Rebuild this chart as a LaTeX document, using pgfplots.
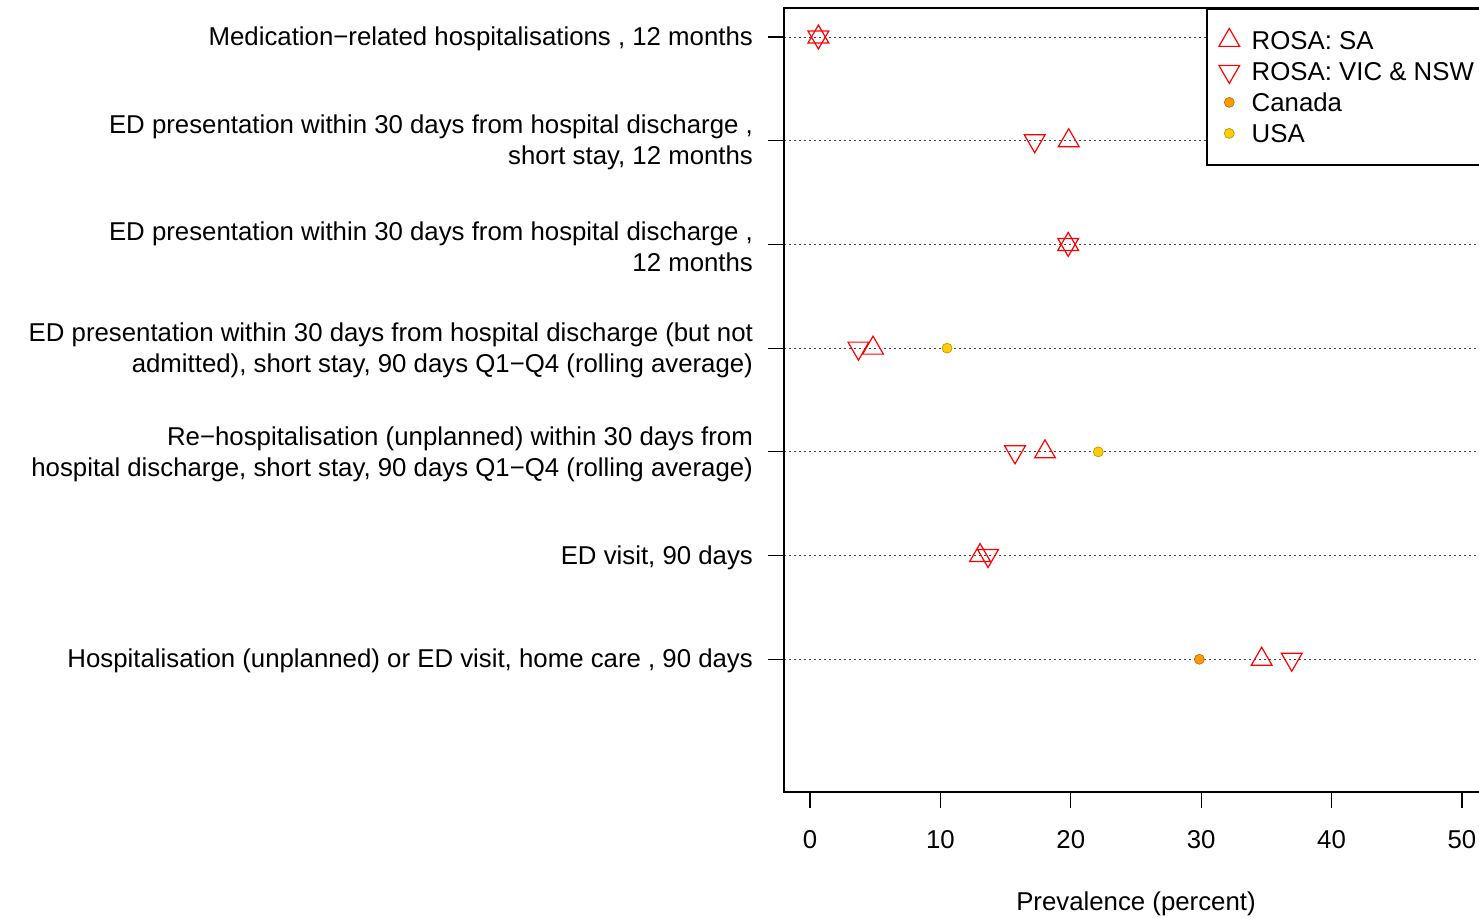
\documentclass[border=0pt]{standalone}
\usepackage{fontspec}
\setmainfont{Liberation Sans}
\usepackage{pgfplots}
\pgfplotsset{compat=1.18}
\definecolor{canada}{RGB}{255,153,0}
\definecolor{usa}{RGB}{255,204,0}
\begin{document}
\begin{tikzpicture}
\useasboundingbox (0,0) rectangle (739.5pt,458.5pt);
\clip (0,0) rectangle (739.5pt,458.5pt);
\begin{axis}[
  at={(392pt,62.5pt)}, anchor=south west,
  width=352pt, height=392pt, scale only axis,
  xmin=-2, xmax=52, ymin=-0.28, ymax=7.28,
  xtick={0,10,20,30,40,50},
  ytick={1,2,3,4,5,6,7},
  yticklabels={
    {Hospitalisation (unplanned) or ED visit, home care , 90 days},
    {ED visit, 90 days},
    {Re−hospitalisation (unplanned) within 30 days from\\hospital discharge, short stay, 90 days Q1−Q4 (rolling average)},
    {ED presentation within 30 days from hospital discharge (but not\\admitted), short stay, 90 days Q1−Q4 (rolling average)},
    {ED presentation within 30 days from hospital discharge ,\\12 months},
    {ED presentation within 30 days from hospital discharge ,\\short stay, 12 months},
    {Medication−related hospitalisations , 12 months}},
  tick pos=left,
  tick align=outside,
  major tick length=8pt,
  tick style={black, line width=0.6pt},
  axis line style={line width=0.9pt},
  ymajorgrids,
  grid style={black!75, line width=0.5pt, dash pattern=on 1pt off 1.5pt},
  /pgf/number format/assume math mode=true,
  tick label style={font=\fontsize{12.9}{15.5}\selectfont},
  yticklabel style={align=right, xshift=-4pt, yshift=-1pt},
  xticklabel style={yshift=-7.5pt},
  xlabel={Prevalence (percent)},
  xlabel style={font=\fontsize{12.9}{14}\selectfont, at={(axis description cs:0.5,0)}, anchor=center, yshift=-56pt},
  legend style={at={(axis cs:30.37,7.28)}, anchor=north west, draw=black, line width=0.9pt,
    font=\fontsize{12.9}{14}\selectfont, row sep=0pt, inner ysep=8pt, inner xsep=6pt,
    nodes={text height=10.5pt, text depth=1pt, inner xsep=6pt},
    legend cell align=left},
  legend image code/.code={\draw[mark repeat=2,mark phase=2,#1] plot coordinates {(0pt,0pt)(5.5pt,0pt)(11pt,0pt)};},
]
\addplot[only marks, red, mark=triangle, mark size=6pt, mark options={line width=0.6pt}]
  coordinates {(0.64,7) (19.84,6) (19.8,5) (4.83,4) (18.02,3) (13.04,2) (34.64,1)};
\addlegendentry{ROSA: SA}
\addplot[only marks, red, mark=triangle, mark size=6pt, mark options={line width=0.6pt, rotate=180}]
  coordinates {(0.64,7) (17.23,6) (19.8,5) (3.71,4) (15.72,3) (13.65,2) (36.95,1)};
\addlegendentry{ROSA: VIC \& NSW}
\addplot[only marks, mark=*, mark size=2.5pt, mark options={fill=canada, draw=canada!70!black, line width=0.3pt}]
  coordinates {(29.86,1)};
\addlegendentry{Canada}
\addplot[only marks, mark=*, mark size=2.5pt, mark options={fill=usa, draw=usa!70!black, line width=0.3pt}]
  coordinates {(10.51,4) (22.11,3)};
\addlegendentry{USA}
\end{axis}
\end{tikzpicture}
\end{document}
